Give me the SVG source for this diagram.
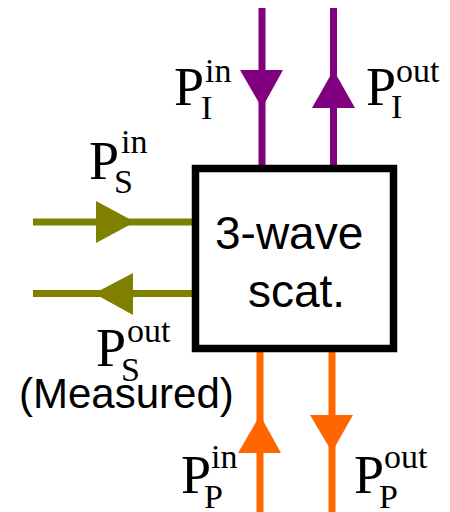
<svg xmlns="http://www.w3.org/2000/svg" width="450" height="512" viewBox="0 0 450 512">
<style>
.idler{stroke:#800080;fill:#800080}
.signal{stroke:#808000;fill:#808000}
.pump{stroke:#FF6600;fill:#FF6600}
.ln{stroke-width:7;fill:none}
.hd{stroke:none}
.big{font-family:"Liberation Serif","Times New Roman",serif;font-size:54px;fill:#000}
.sm{font-family:"Liberation Serif","Times New Roman",serif;font-size:34px;fill:#000}
.sans{font-family:"Liberation Sans",Arial,sans-serif;fill:#000}
</style>
<rect width="450" height="512" fill="#fff"/>
<g id="connectors">
  <line class="idler ln" x1="262" y1="8" x2="262" y2="166"/>
  <polygon class="idler hd" points="240,70 283,70 262,108"/>
  <line class="idler ln" x1="333.5" y1="8" x2="333.5" y2="166"/>
  <polygon class="idler hd" points="312,108 355,108 333.5,70"/>
  <line class="signal ln" x1="33" y1="222" x2="193" y2="222"/>
  <polygon class="signal hd" points="96,201 96,243 135,222"/>
  <line class="signal ln" x1="33" y1="293.5" x2="193" y2="293.5"/>
  <polygon class="signal hd" points="133,273 133,315 94,293.5"/>
  <line class="pump ln" x1="260" y1="351" x2="260" y2="512"/>
  <polygon class="pump hd" points="238,453 281,453 260,415"/>
  <line class="pump ln" x1="332" y1="351" x2="332" y2="512"/>
  <polygon class="pump hd" points="310,415 353,415 332,452"/>
</g>
<g id="scatterer">
  <rect x="195.5" y="168.5" width="198" height="180" fill="#fff" stroke="#000" stroke-width="7.5"/>
  <text class="sans" font-size="46" x="215" y="249">3-wave</text>
  <text class="sans" font-size="46" x="248" y="307">scat.</text>
</g>
<g id="label-idler-in">
  <text class="big" x="174" y="105">P</text>
  <text class="sm" x="205" y="82">in</text>
  <text class="sm" x="201" y="119">I</text>
</g>
<g id="label-idler-out">
  <text class="big" x="366" y="105">P</text>
  <text class="sm" x="396" y="82">out</text>
  <text class="sm" x="391" y="118">I</text>
</g>
<g id="label-signal-in">
  <text class="big" x="89" y="179">P</text>
  <text class="sm" x="121" y="153">in</text>
  <text class="sm" x="114" y="193">S</text>
</g>
<g id="label-signal-out">
  <text class="big" x="96" y="366">P</text>
  <text class="sm" x="127" y="342">out</text>
  <text class="sm" x="121" y="381">S</text>
  <text class="sans" font-size="42" x="19" y="408">(Measured)</text>
</g>
<g id="label-pump-in">
  <text class="big" x="181" y="493">P</text>
  <text class="sm" x="211" y="468">in</text>
  <text class="sm" x="204" y="508">P</text>
</g>
<g id="label-pump-out">
  <text class="big" x="354" y="493">P</text>
  <text class="sm" x="384" y="468">out</text>
  <text class="sm" x="379" y="508">P</text>
</g>
</svg>
